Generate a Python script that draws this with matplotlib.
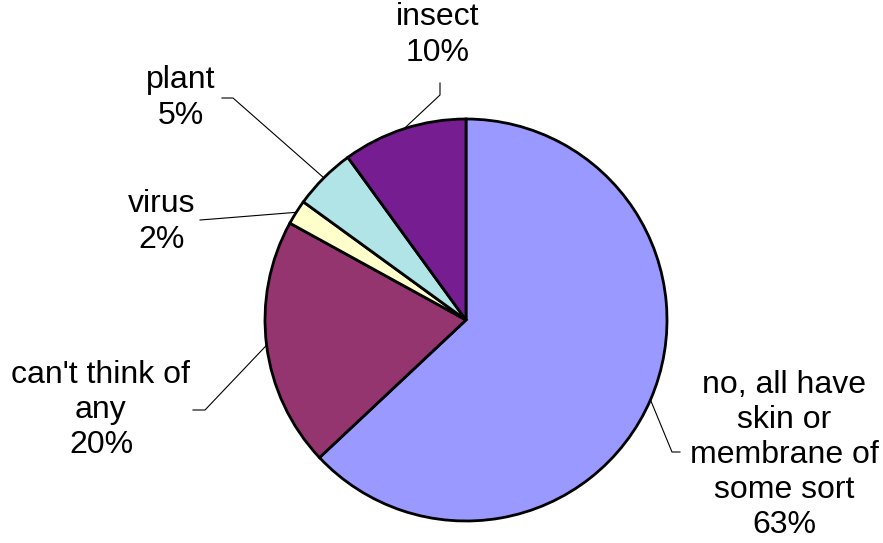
import numpy as np
import matplotlib
matplotlib.use('Agg')
import matplotlib.pyplot as plt

# Slice data (clockwise from 12 o'clock)
categories = ['no, all have\nskin or\nmembrane of\nsome sort', "can't think of\nany", 'virus', 'plant', 'insect']
shares = [63, 20, 2, 5, 10]
colors = ['#9999FF', '#953570', '#FFFFCC', '#B0E4E6', '#761E91']

# Label centres and leader elbows in pixels (layout only)
label_px = [(784, 455), (101, 410), (162, 222), (181, 98), (438, 35)]
elbow_px = [[(680, 452), (672, 452)], [(193, 410), (205, 410)], [(200, 220), (213, 219)],
            [(222, 98), (233, 98)], [(440, 83), (440, 95)]]

W, H = 883, 543
cx, cy, R = 466, 320, 201


def to_data(p):
    return ((p[0] - cx) / R, (cy - p[1]) / R)


plt.rcParams['font.family'] = ['Liberation Sans', 'DejaVu Sans']
fig = plt.figure(figsize=(W / 100, H / 100), dpi=100)
ax = fig.add_axes([0, 0, 1, 1])

wedges, _ = ax.pie(shares, colors=colors, startangle=90, counterclock=False,
                   wedgeprops=dict(edgecolor='black', linewidth=2.0))
ax.set_xlim(-cx / R, (W - cx) / R)
ax.set_ylim(-(H - cy) / R, cy / R)
ax.set_aspect('auto')
ax.axis('off')

total = sum(shares)
for w, cat, val, lp, el in zip(wedges, categories, shares, label_px, elbow_px):
    mid = np.deg2rad((w.theta1 + w.theta2) / 2)
    arc = (np.cos(mid), np.sin(mid))
    pts = [to_data(p) for p in el] + [arc]
    ax.plot([p[0] for p in pts], [p[1] for p in pts], color='black', lw=0.8)
    tx, ty = to_data(lp)
    ax.text(tx, ty, f'{cat}\n{round(val / total * 100)}%', ha='center', va='center',
            fontsize=23, linespacing=1.22, color='black')

fig.savefig('out.png', dpi=100, facecolor='white')
